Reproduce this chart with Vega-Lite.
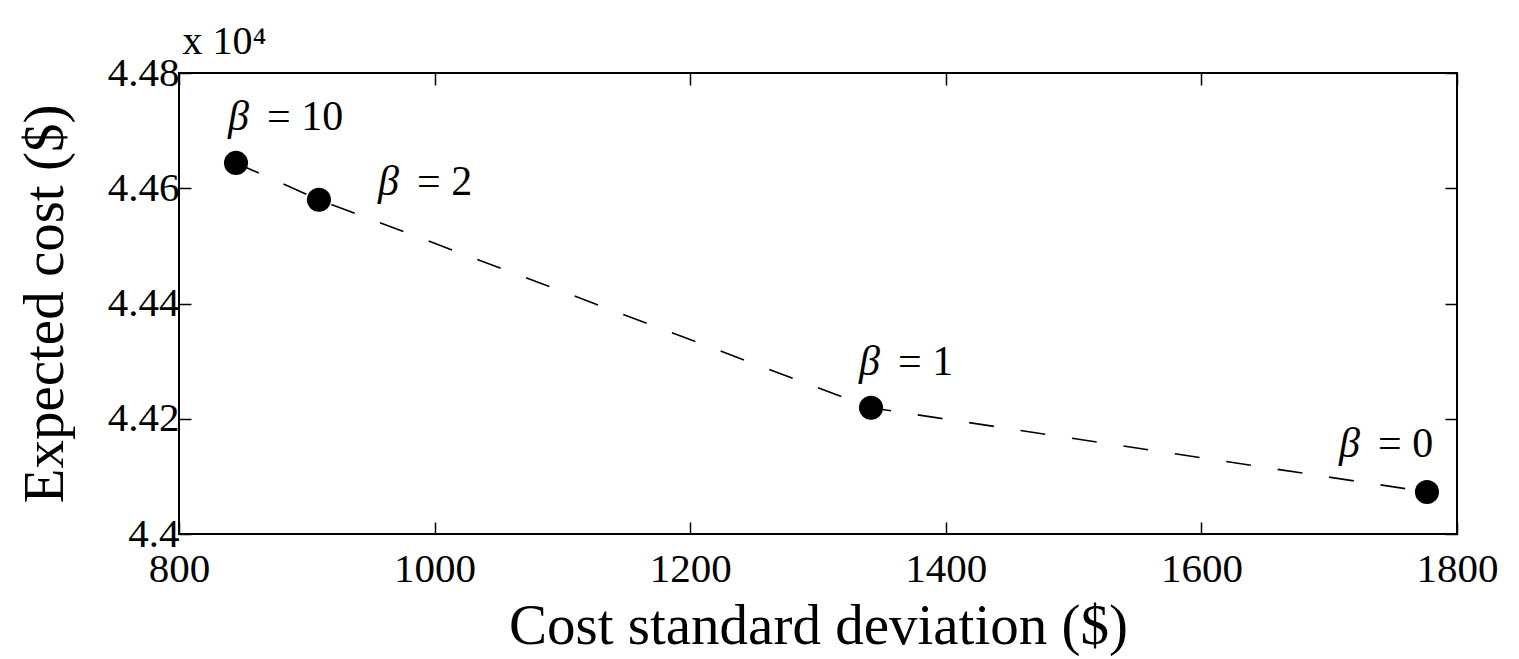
{
  "$schema": "https://vega.github.io/schema/vega-lite/v6.json",
  "width": 1278,
  "height": 461,
  "autosize": {"type": "none"},
  "padding": {"left": 179, "top": 73, "right": 62, "bottom": 125},
  "background": "white",
  "config": {
    "view": {"stroke": "black", "strokeWidth": 2},
    "font": "Liberation Serif",
    "axis": {
      "domain": false,
      "grid": false,
      "tickColor": "black",
      "tickSize": -12,
      "tickWidth": 1.5,
      "labelFont": "Liberation Serif",
      "labelFontSize": 41,
      "labelColor": "black",
      "labelOverlap": false,
      "labelBound": false,
      "labelFlush": false,
      "titleFont": "Liberation Serif",
      "titleFontSize": 57,
      "titleFontWeight": "normal",
      "titleColor": "black"
    }
  },
  "data": {
    "values": [
      {"sd": 844.6, "cost": 44644, "beta": 10, "label": "= 10"},
      {"sd": 909.5, "cost": 44580, "beta": 2, "label": "= 2"},
      {"sd": 1341.5, "cost": 44219, "beta": 1, "label": "= 1"},
      {"sd": 1776.5, "cost": 44073, "beta": 0, "label": "= 0"}
    ]
  },
  "layer": [
    {
      "mark": {"type": "line", "color": "black", "strokeWidth": 1.6, "strokeDash": [25, 27]},
      "encoding": {
        "x": {
          "field": "sd", "type": "quantitative",
          "scale": {"domain": [800, 1800], "nice": false, "zero": false},
          "axis": {
            "orient": "bottom",
            "title": "Cost standard deviation ($)",
            "values": [800, 1000, 1200, 1400, 1600, 1800],
            "format": "d",
            "labelPadding": 27,
            "titlePadding": 9
          }
        },
        "y": {
          "field": "cost", "type": "quantitative",
          "scale": {"domain": [44000, 44800], "nice": false, "zero": false},
          "axis": {
            "orient": "left",
            "title": "Expected cost ($)",
            "values": [44000, 44200, 44400, 44600, 44800],
            "labelExpr": "format(datum.value / 10000, '~g')",
            "labelPadding": 12,
            "titlePadding": 33
          }
        }
      }
    },
    {
      "mark": {"type": "circle", "color": "black", "opacity": 1, "size": 580},
      "encoding": {
        "x": {
          "field": "sd", "type": "quantitative",
          "axis": {
            "orient": "top", "labels": false,
            "title": "x 10⁴",
            "titleFontSize": 40,
            "titleAnchor": "start",
            "titleAlign": "left",
            "titleBaseline": "alphabetic",
            "titleX": 3,
            "titleY": -20,
            "values": [800, 1000, 1200, 1400, 1600, 1800]
          }
        },
        "y": {
          "field": "cost", "type": "quantitative",
          "axis": {"orient": "right", "labels": false, "title": null, "values": [44000, 44200, 44400, 44600, 44800]}
        }
      }
    },
    {
      "transform": [{"filter": "datum.beta == 10"}],
      "mark": {"type": "text", "text": "β", "fontStyle": "italic", "fontSize": 42, "align": "left", "baseline": "alphabetic", "dx": -8, "dy": -33, "color": "black"},
      "encoding": {"x": {"field": "sd", "type": "quantitative", "axis": null}, "y": {"field": "cost", "type": "quantitative", "axis": null}}
    },
    {
      "transform": [{"filter": "datum.beta == 10"}],
      "mark": {"type": "text", "fontSize": 42, "align": "left", "baseline": "alphabetic", "dx": 31, "dy": -33, "color": "black"},
      "encoding": {"x": {"field": "sd", "type": "quantitative", "axis": null}, "y": {"field": "cost", "type": "quantitative", "axis": null}, "text": {"field": "label"}}
    },
    {
      "transform": [{"filter": "datum.beta == 2"}],
      "mark": {"type": "text", "text": "β", "fontStyle": "italic", "fontSize": 42, "align": "left", "baseline": "alphabetic", "dx": 59, "dy": -5, "color": "black"},
      "encoding": {"x": {"field": "sd", "type": "quantitative", "axis": null}, "y": {"field": "cost", "type": "quantitative", "axis": null}}
    },
    {
      "transform": [{"filter": "datum.beta == 2"}],
      "mark": {"type": "text", "fontSize": 42, "align": "left", "baseline": "alphabetic", "dx": 98, "dy": -5, "color": "black"},
      "encoding": {"x": {"field": "sd", "type": "quantitative", "axis": null}, "y": {"field": "cost", "type": "quantitative", "axis": null}, "text": {"field": "label"}}
    },
    {
      "transform": [{"filter": "datum.beta == 1"}],
      "mark": {"type": "text", "text": "β", "fontStyle": "italic", "fontSize": 42, "align": "left", "baseline": "alphabetic", "dx": -12, "dy": -33, "color": "black"},
      "encoding": {"x": {"field": "sd", "type": "quantitative", "axis": null}, "y": {"field": "cost", "type": "quantitative", "axis": null}}
    },
    {
      "transform": [{"filter": "datum.beta == 1"}],
      "mark": {"type": "text", "fontSize": 42, "align": "left", "baseline": "alphabetic", "dx": 27, "dy": -33, "color": "black"},
      "encoding": {"x": {"field": "sd", "type": "quantitative", "axis": null}, "y": {"field": "cost", "type": "quantitative", "axis": null}, "text": {"field": "label"}}
    },
    {
      "transform": [{"filter": "datum.beta == 0"}],
      "mark": {"type": "text", "text": "β", "fontStyle": "italic", "fontSize": 42, "align": "left", "baseline": "alphabetic", "dx": -88, "dy": -35, "color": "black"},
      "encoding": {"x": {"field": "sd", "type": "quantitative", "axis": null}, "y": {"field": "cost", "type": "quantitative", "axis": null}}
    },
    {
      "transform": [{"filter": "datum.beta == 0"}],
      "mark": {"type": "text", "fontSize": 42, "align": "left", "baseline": "alphabetic", "dx": -49, "dy": -35, "color": "black"},
      "encoding": {"x": {"field": "sd", "type": "quantitative", "axis": null}, "y": {"field": "cost", "type": "quantitative", "axis": null}, "text": {"field": "label"}}
    }
  ],
  "resolve": {"axis": {"x": "independent", "y": "independent"}}
}
